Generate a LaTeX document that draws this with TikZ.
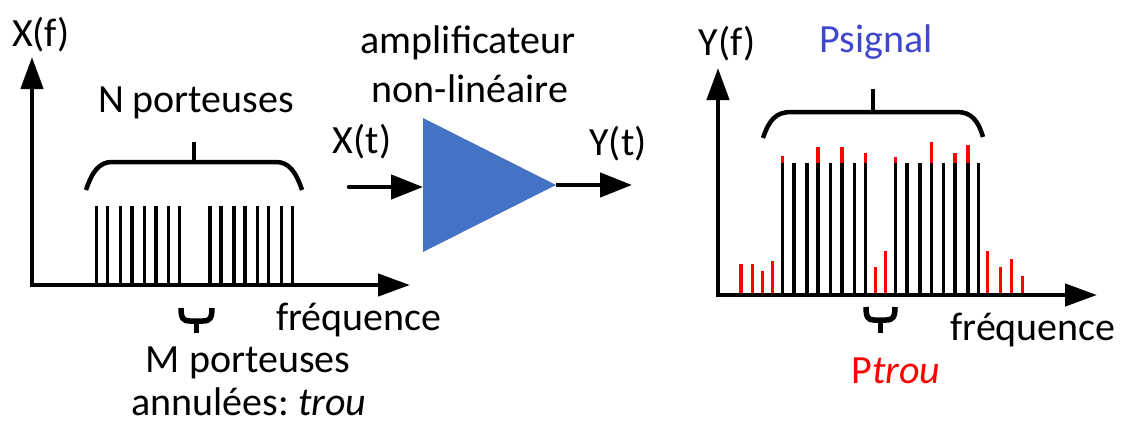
\documentclass[tikz,border=0pt]{standalone}
\usepackage{fontspec}
\setmainfont{Carlito}
\usetikzlibrary{arrows.meta}
\definecolor{ampblue}{RGB}{68,114,196}
\definecolor{sigblue}{RGB}{63,72,204}
\begin{document}
\begin{tikzpicture}[x=1pt,y=-1pt,
  axis/.style={line width=4.5pt, line cap=rect, -{Triangle[length=32pt,width=22pt]}},
  sigarrow/.style={line width=4.5pt, line cap=round, -{Triangle[length=32pt,width=24pt]}},
  carrier/.style={line width=3.5pt},
  redc/.style={line width=3.3pt, red},
  bracestyle/.style={line width=4.5pt},
  smallbrace/.style={line width=5.5pt},
  lbl/.style={anchor=base, inner sep=0pt, font=\fontsize{40}{48}\selectfont}]
\useasboundingbox (0,0) rectangle (1122,424);

% ---------- left spectrum ----------
\coordinate (oL) at (32,285);
\coordinate (yTipL) at (32,57);
\coordinate (xTipL) at (410,285);
\foreach \x in {96.7,107.7,120.7,132,144.7,156,168.7,179.3,210,221,234,245,257.7,268.7,281.3,292.3}
  \draw[carrier] (\x,285) -- (\x,206);
\draw[axis] (oL) -- (yTipL);
\draw[axis] (oL) -- (xTipL);
% big brace left
\draw[bracestyle] (86,190) .. controls (92,172) and (99,162) .. (112,162) -- (276,162) .. controls (289,162) and (296,172) .. (302,190);
\draw[bracestyle] (194,162) -- (194,142);
% small brace left
\draw[smallbrace] (181,308) .. controls (181,318) and (183,321) .. (190,321) -- (203,321) .. controls (210,321) and (212,318) .. (212,308);
\draw[smallbrace] (196.5,321) -- (196.5,333);

\node[lbl] (xf) at (41,46) {X(f)};
\node[lbl] (np) at (196,112) {N porteuses};
\node[lbl] (fl) at (359,330) {fréquence};
\node[lbl] (mp) at (248,372) {M porteuses};
\node[lbl] (an) at (249,415) {annulées:\ \textit{trou}};

% ---------- amplifier ----------
\coordinate (tA) at (423,118);
\coordinate (tB) at (423,252);
\coordinate (tC) at (556,185);
\fill[ampblue] (tA) -- (tC) -- (tB) -- cycle;
\coordinate (inS) at (349,187);
\coordinate (inE) at (423,187);
\coordinate (outE) at (632,185);
\draw[sigarrow] (inS) -- (inE);
\draw[sigarrow, line cap=butt] (tC) -- (outE);
\node[lbl] (amp1) at (468,53) {amplificateur};
\node[lbl] (amp2) at (470,102) {non-linéaire};
\node[lbl] (xt) at (362,153) {X(t)};
\node[lbl] (yt) at (618,155) {Y(t)};

% ---------- right spectrum ----------
\coordinate (oR) at (718,295);
\coordinate (yTipR) at (718,68);
\coordinate (xTipR) at (1097,295);
% red tops over black carriers
\foreach \x/\t in {782.7/156,818/147,842/147,865.7/153,895.7/157,931.3/142,955/153,968/145}
  \draw[redc] (\x,200) -- (\x,\t);
% red low intermodulation lines
\foreach \x/\t in {741/264,752.7/264,762.7/271,772.7/261,875.7/267,885.7/251,987.7/251,1000.7/267,1011.7/259}
  \draw[redc] (\x,295) -- (\x,\t);
\draw[redc] (1022.3,297) -- (1022.3,276);
% black carriers
\foreach \x in {782.7,794,807,818,830.7,842,854.7,865.7,895.7,907,920,931.3,943.7,955,968,978.7}
  \draw[carrier,line width=3.3pt] (\x,295) -- (\x,163);
\draw[axis] (oR) -- (yTipR);
\draw[axis] (oR) -- (xTipR);
% big brace right
\draw[bracestyle] (763,138) .. controls (769,120) and (776,112) .. (791,112) -- (957,112) .. controls (971,112) and (978,120) .. (983,137);
\draw[bracestyle] (873,112) -- (873,89);
% small brace right
\draw[smallbrace] (866,307) .. controls (866,317) and (868,320) .. (874,320) -- (886,320) .. controls (893,320) and (895,317) .. (895,307);
\draw[smallbrace] (880.5,320) -- (880.5,333);

\node[lbl] (yf) at (727,55) {Y(f)};
\node[lbl, text=sigblue] (ps) at (876,52) {Psignal};
\node[lbl] (fr) at (1033,340) {fréquence};
\node[lbl, text=red] (pt) at (896,383) {P\textit{trou}};
\end{tikzpicture}
\end{document}
